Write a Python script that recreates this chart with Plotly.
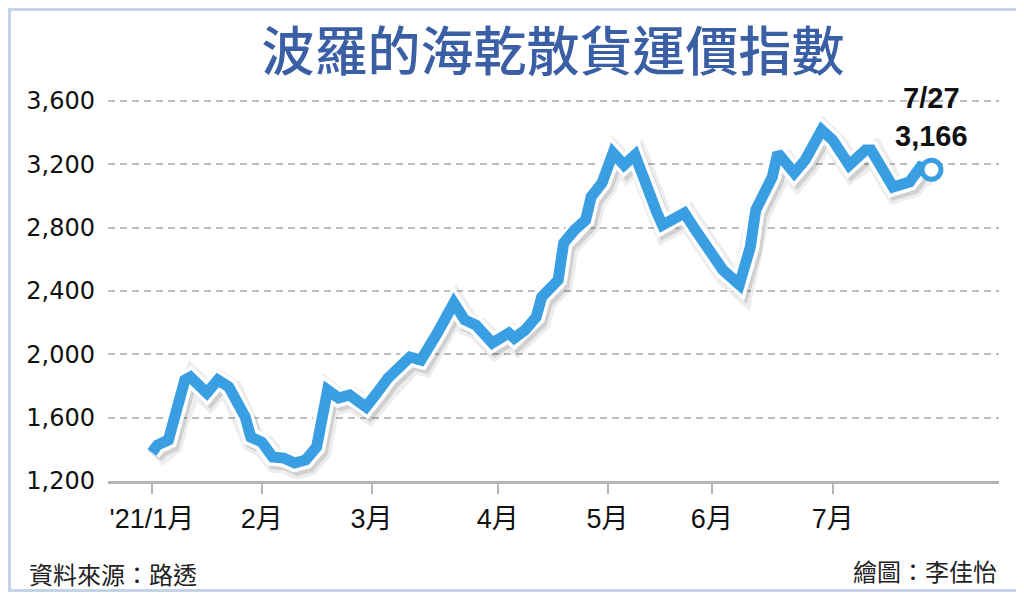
"""
bdi_2021.py — Índice Báltico de carga seca (BDI), ene–jul 2021.
Eje x en días hábiles (índice), etiquetas por mes.
"""

import plotly.graph_objects as go

# Días hábiles desde 2021-01-04 y valor del índice
dia = [0, 1, 3, 4, 6, 7, 10, 12, 14, 17, 18, 20, 22, 24, 26, 28, 30, 32, 34, 36,
       39, 41, 43, 47, 49, 52, 55, 57, 59, 62, 65, 66, 68, 70, 71, 74, 75, 77, 79, 80,
       82, 84, 86, 88, 90, 92, 93, 97, 99, 102, 104, 107, 109, 110, 113, 114, 117, 119, 122, 124,
       127, 130, 131, 135, 138, 140, 142]
bdi = [1380, 1427, 1459, 1604, 1838, 1857, 1756, 1838, 1794, 1604, 1478, 1446, 1352, 1345, 1314, 1333, 1415, 1775, 1724, 1743,
       1668, 1756, 1850, 1983, 1964, 2135, 2324, 2217, 2185, 2072, 2135, 2103, 2154, 2236, 2362, 2470, 2703, 2786, 2849, 2994,
       3083, 3272, 3196, 3259, 3057, 2893, 2817, 2893, 2786, 2640, 2533, 2440, 2678, 2912, 3120, 3272, 3146, 3228, 3417, 3354,
       3196, 3291, 3291, 3057, 3089, 3183, 3166]

mes_dia = [0, 20, 40, 63, 83, 102, 124]
mes_txt = ["'21/1月", "2月", "3月", "4月", "5月", "6月", "7月"]

y_ticks = [1200, 1600, 2000, 2400, 2800, 3200, 3600]
y_txt = ["1,200", "1,600", "2,000", "2,400", "2,800", "3,200", "3,600"]

ultimo_txt = "7/27<br>3,166"

AZUL = "#3a9fe2"
FUENTE = "Liberation Sans, Noto Sans CJK TC, sans-serif"
NUM = "DejaVu Sans, sans-serif"
CJK = "Noto Sans CJK TC, sans-serif"

X_RANGO = [-8, 154.3]
Y_RANGO = [1200, 3733]

# la página tiene 8px de margen: la figura ocupa (8,8)-(1024,592)
OFF = 8
ANCHO, ALTO = 1016, 584
L, R, T, B = 100, 20, 72, 107
W = ANCHO - L - R
H = ALTO - T - B


def px_x(px):
    return (px - OFF - L) / W


def px_y(py):
    return (ALTO - B - (py - OFF)) / H


fig = go.Figure()

# traza vacía para que se dibujen los ejes visibles
fig.add_trace(go.Scatter(x=[], y=[], mode="lines", showlegend=False, hoverinfo="skip"))

# sombra (subplot desplazado unos píxeles)
fig.add_trace(go.Scatter(
    x=dia, y=bdi, mode="lines", xaxis="x2", yaxis="y2",
    line=dict(color="rgba(0,0,0,0.07)", width=24),
    hoverinfo="skip", showlegend=False,
))
fig.add_trace(go.Scatter(
    x=dia, y=bdi, mode="lines", xaxis="x2", yaxis="y2",
    line=dict(color="rgba(0,0,0,0.12)", width=17),
    hoverinfo="skip", showlegend=False,
))

# borde blanco + línea azul
fig.add_trace(go.Scatter(
    x=dia, y=bdi, mode="lines", xaxis="x3", yaxis="y3",
    line=dict(color="white", width=18),
    hoverinfo="skip", showlegend=False,
))
fig.add_trace(go.Scatter(
    x=dia, y=bdi, mode="lines", xaxis="x3", yaxis="y3",
    line=dict(color=AZUL, width=11),
    hovertemplate="%{y:,.0f}<extra></extra>", showlegend=False,
))
fig.add_trace(go.Scatter(
    x=dia[-1:], y=bdi[-1:], mode="markers", xaxis="x3", yaxis="y3",
    marker=dict(size=19, color="white", line=dict(color=AZUL, width=5)),
    hoverinfo="skip", showlegend=False,
))

dom_x = [0, 891 / W]
dom_y = [4 / H, 1]
sombra_x = [3 / W, 894 / W]
sombra_y = [0, (H - 4) / H]

oculto = dict(visible=False, showgrid=False, zeroline=False, fixedrange=True)

fig.update_layout(
    width=ANCHO,
    height=ALTO,
    margin=dict(l=L, r=R, t=T, b=B),
    paper_bgcolor="white",
    plot_bgcolor="rgba(0,0,0,0)",
    font=dict(family=FUENTE, color="#111"),
    title=dict(
        text="波羅的海乾散貨運價指數",
        x=(553 - OFF) / ANCHO, xanchor="center", y=1 - (52 - OFF) / ALTO, yanchor="middle",
        font=dict(family=CJK, size=53, color="#3a5fa5", weight=500),
    ),
    xaxis=dict(
        domain=dom_x, range=X_RANGO,
        tickvals=mes_dia, ticktext=mes_txt,
        ticks="outside", ticklen=10, tickwidth=2, tickcolor="#b5b5b5",
        showline=True, linecolor="#b5b5b5", linewidth=3,
        showgrid=False, zeroline=False,
        tickfont=dict(size=27, color="#111"), ticklabelstandoff=2,
    ),
    yaxis=dict(
        domain=dom_y, range=Y_RANGO,
        tickvals=y_ticks, ticktext=y_txt,
        showgrid=True, gridcolor="#bdbdbd", gridwidth=1.5, griddash="7px,5px",
        showline=False, zeroline=False, ticks="",
        tickfont=dict(family=NUM, size=24, color="#111"), ticklabelstandoff=12,
    ),
    xaxis2=dict(domain=sombra_x, range=X_RANGO, anchor="y2", **oculto),
    yaxis2=dict(domain=sombra_y, range=Y_RANGO, anchor="x2", **oculto),
    xaxis3=dict(domain=dom_x, range=X_RANGO, anchor="y3", **oculto),
    yaxis3=dict(domain=dom_y, range=Y_RANGO, anchor="x3", **oculto),
    showlegend=False,
)

fig.add_annotation(
    x=dia[-1], y=bdi[-1], xref="x3", yref="y3",
    text=ultimo_txt, showarrow=False,
    xanchor="center", yanchor="bottom", yshift=16,
    font=dict(family=FUENTE, size=29, color="#111", weight="bold"),
    align="center",
)

fig.add_annotation(
    x=px_x(27), y=px_y(573), xref="paper", yref="paper",
    text="資料來源：路透", showarrow=False,
    xanchor="left", yanchor="middle",
    font=dict(family=CJK, size=24, color="#222"),
)
fig.add_annotation(
    x=px_x(999), y=px_y(570), xref="paper", yref="paper",
    text="繪圖：李佳怡", showarrow=False,
    xanchor="right", yanchor="middle",
    font=dict(family=CJK, size=24, color="#222"),
)

# marco exterior
fig.add_shape(
    type="rect", xref="paper", yref="paper",
    x0=px_x(OFF + 1.5), x1=px_x(1022.5), y0=px_y(OFF + ALTO - 1.5), y1=px_y(OFF + 1.5),
    line=dict(color="#c4d4e6", width=3),
)

fig.write_html("out.html")
